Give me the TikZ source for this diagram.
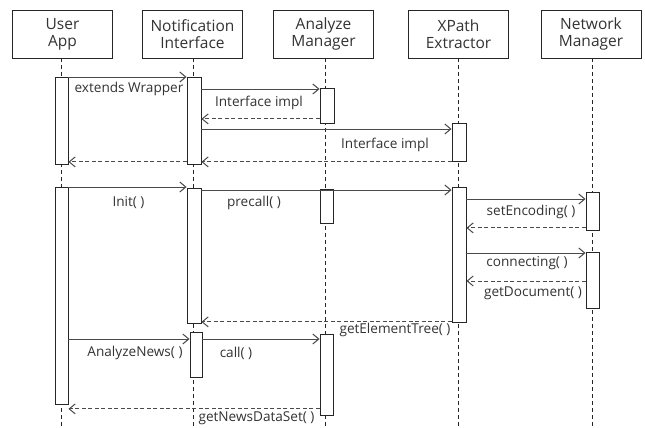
\documentclass[tikz,border=0pt]{standalone}
\usepackage{fontspec}
\setmainfont{Open Sans}
\usetikzlibrary{arrows.meta}
\definecolor{ink}{HTML}{333333}
\definecolor{wire}{HTML}{4A4A4A}
\begin{document}
\begin{tikzpicture}[x=1pt,y=-1pt,
  head/.style={draw=black!85,line width=0.9pt,fill=white,minimum width=100pt,minimum height=48pt,align=center,font=\fontsize{15.5}{17}\selectfont,text=ink,inner sep=0pt},
  life/.style={draw=black!85,line width=0.8pt,dash pattern=on 4pt off 3pt},
  bar/.style={draw=black!85,line width=0.9pt,fill=white,minimum width=13pt,inner sep=0pt,anchor=north},
  msg/.style={draw=wire,line width=1pt,-{Straight Barb[length=6pt,width=10pt]}},
  ret/.style={msg,dash pattern=on 4pt off 2.5pt},
  lbl/.style={font=\fontsize{13.6}{15}\selectfont,text=ink,inner sep=0pt}
]
\useasboundingbox (0,0) rectangle (645,428);
\fill[white] (0,0) rectangle (645,428);
% headers
\node[head] (hu) at (62.5,34) {User\\App};
\node[head] (hn) at (192.5,34) {Notification\\Interface};
\node[head] (ha) at (323.5,34) {Analyze\\Manager};
\node[head] (hx) at (458.5,34) {XPath\\Extractor};
\node[head] (hw) at (591,34) {Network\\Manager};
% lifelines
\coordinate (eu) at (61.5,428);
\coordinate (en) at (193.5,428);
\coordinate (ea) at (325,428);
\coordinate (ex) at (458.5,428);
\coordinate (ew) at (592,428);
\draw[life] (hu.south -| eu) -- (eu);
\draw[life] (hn.south -| en) -- (en);
\draw[life] (ha.south -| ea) -- (ea);
\draw[life] (hx.south -| ex) -- (ex);
\draw[life] (hw.south -| ew) -- (ew);
% activation bars
\node[bar,minimum height=87pt] (u1) at (61.5,77) {};
\node[bar,minimum height=87pt,minimum width=14pt] (n1) at (194,77) {};
\node[bar,minimum height=35pt,minimum width=14pt] (a1) at (327,88) {};
\node[bar,minimum height=38pt,minimum width=14pt] (x1) at (459,123) {};
\node[bar,minimum height=217pt] (u2) at (61.5,187) {};
\node[bar,minimum height=135pt,minimum width=14pt] (n2) at (194,188) {};
\node[bar,minimum height=45pt,minimum width=12pt] (n3) at (196,332) {};
\node[bar,minimum height=34pt] (a2) at (326.5,189) {};
\node[bar,minimum height=81pt] (a3) at (326.5,334) {};
\node[bar,minimum height=135pt,minimum width=14pt] (x2) at (459,187) {};
\node[bar,minimum height=38pt] (w1) at (592.5,192) {};
\node[bar,minimum height=56pt] (w2) at (592.5,252) {};
% messages, first phase
\draw[msg] (u1.north east) -- (n1.north west);
\draw[msg] ([yshift=-1pt]a1.north west -| n1.east) -- ([yshift=-1pt]a1.north west);
\draw[ret] ([yshift=5pt]a1.south west) -- ([yshift=5pt]a1.south west -| n1.east);
\draw[msg] ([yshift=-6pt]x1.north west -| n1.east) -- ([yshift=-6pt]x1.north west);
\draw[ret] (x1.south west) -- (x1.south west -| n1.east);
\draw[ret] ([yshift=3pt]n1.south west) -- ([yshift=3pt]n1.south west -| u1.east);
% messages, second phase
\draw[msg] (u2.north east) -- (u2.north east -| n2.west);
\draw[msg] ([yshift=-2pt]n2.north east) -- ([yshift=-2pt]n2.north east -| x2.west);
\draw[msg] ([yshift=-7pt]w1.north west -| x2.east) -- ([yshift=-7pt]w1.north west);
\draw[ret] ([yshift=3pt]w1.south west) -- ([yshift=3pt]w1.south west -| x2.east);
\draw[msg] ([yshift=-1pt]w2.north west -| x2.east) -- ([yshift=-1pt]w2.north west);
\draw[ret] ([yshift=-29pt]w2.north west) -- ([yshift=-29pt]w2.north west -| x2.east);
\draw[ret] ([yshift=1pt]x2.south west) -- ([yshift=1pt]x2.south west -| n2.east);
\draw[msg] ([yshift=-7pt]n3.north west -| u2.east) -- ([yshift=-7pt]n3.north west);
\draw[msg] ([yshift=-7pt]n3.north east) -- ([yshift=-7pt]n3.north east -| a3.west);
\draw[ret] ([yshift=7pt]a3.south west) -- ([yshift=7pt]a3.south west -| u2.east);
% labels
\node[lbl] (l1) at (129,89) {extends Wrapper};
\node[lbl] (l2) at (259,103) {Interface impl};
\node[lbl] (l3) at (385,145) {Interface impl};
\node[lbl] (l4) at (128.5,203) {Init( )};
\node[lbl] (l5) at (254,203) {precall( )};
\node[lbl] (l6) at (531,212) {setEncoding( )};
\node[lbl] (l7) at (527,263) {connecting( )};
\node[lbl] (l8) at (533,293) {getDocument( )};
\node[lbl] (l9) at (395,330) {getElementTree( )};
\node[lbl] (l10) at (135,353) {AnalyzeNews( )};
\node[lbl] (l11) at (236,353) {call( )};
\node[lbl] (l12) at (256.5,418) {getNewsDataSet( )};
\end{tikzpicture}
\end{document}
